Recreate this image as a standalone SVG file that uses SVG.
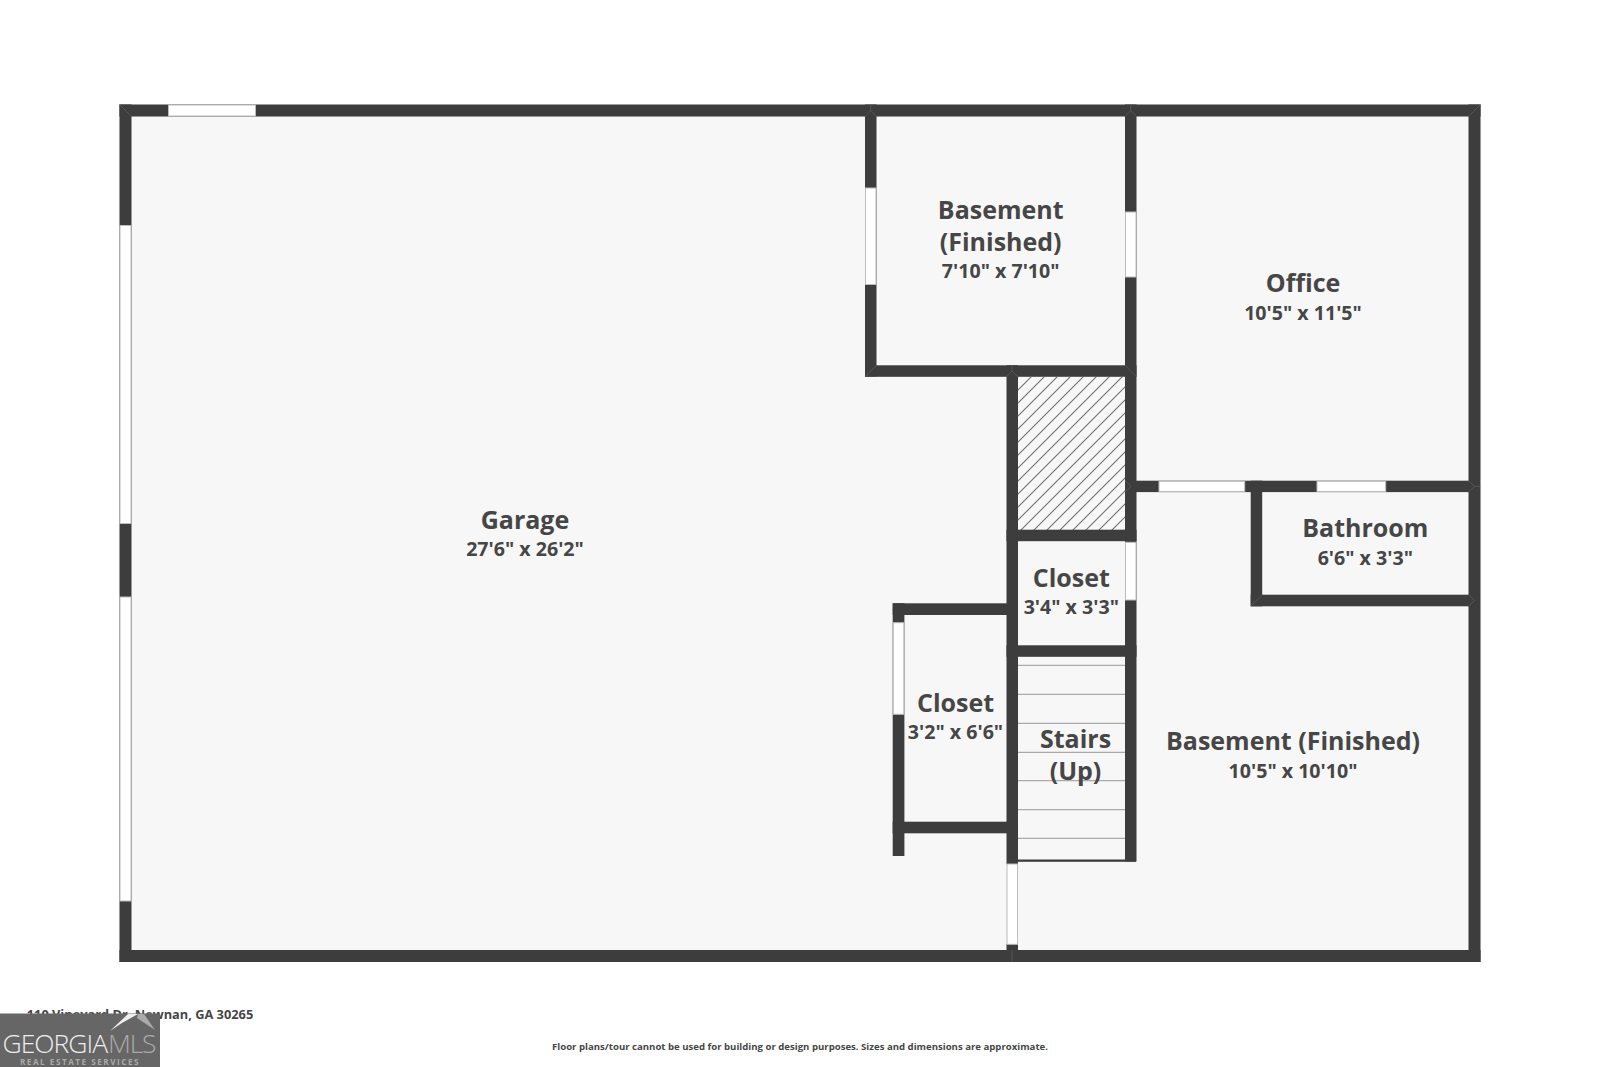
<svg xmlns="http://www.w3.org/2000/svg" width="1600" height="1067" viewBox="0 0 1600 1067">
<style>
.w{fill:#3d3d3d}
.o{fill:#fff;stroke:#bcbcbc;stroke-width:1}
.s{stroke:#aaa;stroke-width:1.2;fill:none}
.m{stroke:#666;stroke-width:.6;fill:none}
text{font-family:"Open Sans","Noto Sans","Liberation Sans",sans-serif;font-weight:700;fill:#464646;text-anchor:middle}
.n{font-size:25px}
.d{font-size:19.6px}
</style>
<defs>
<pattern id="h" width="13" height="13" patternUnits="userSpaceOnUse" patternTransform="translate(1018 377)">
<path d="M-3 3L3 -3M0 13L13 0M10 16L16 10" stroke="#707070" stroke-width="1.1" fill="none"/>
</pattern>
</defs>
<rect width="1600" height="1067" fill="#fff"/>
<rect x="119.5" y="104.5" width="1361" height="857.5" fill="#f7f7f7"/>
<rect x="1018" y="377" width="107" height="153" fill="#f7f7f7"/>
<rect x="1018" y="377" width="107" height="153" fill="url(#h)"/>
<path class="s" d="M1018 665.3H1125M1018 694.3H1125M1018 723.3H1125M1018 752.3H1125M1018 780.7H1125M1018 809.7H1125M1018 838.3H1125"/>
<g id="walls">
<rect class="w" x="119.5" y="104.5" width="1361" height="12"/>
<rect class="w" x="119.5" y="950" width="1361" height="12"/>
<rect class="w" x="119.5" y="104.5" width="12" height="857.5"/>
<rect class="w" x="1468.5" y="104.5" width="12" height="857.5"/>
<rect class="w" x="865" y="104.5" width="11.5" height="272"/>
<rect class="w" x="865" y="365.3" width="271.5" height="11.5"/>
<rect class="w" x="1125" y="104.5" width="11.5" height="757"/>
<rect class="w" x="1006.5" y="365.3" width="11.5" height="498.7"/>
<rect class="w" x="1006.5" y="944" width="11.5" height="10"/>
<rect class="w" x="1006.5" y="529.7" width="130" height="11.5"/>
<rect class="w" x="1006.5" y="645.3" width="130" height="11.5"/>
<rect class="w" x="1018" y="859.5" width="118" height="2.3"/>
<rect class="w" x="892.7" y="603.3" width="125" height="11.7"/>
<rect class="w" x="892.7" y="603.3" width="11.7" height="252.7"/>
<rect class="w" x="892.7" y="821.7" width="125" height="11.6"/>
<rect class="w" x="1125" y="480.7" width="355" height="11.4"/>
<rect class="w" x="1250.7" y="480.7" width="11.5" height="125.6"/>
<rect class="w" x="1250.7" y="594.7" width="229" height="11.6"/>
</g>
<g id="openings">
<rect class="o" x="168.5" y="105" width="87" height="11"/>
<rect class="o" x="120" y="225.5" width="11" height="298"/>
<rect class="o" x="120" y="597" width="11" height="304"/>
<rect class="o" x="865.5" y="188" width="10.5" height="96.5"/>
<rect class="o" x="1125.5" y="212" width="10.5" height="65"/>
<rect class="o" x="1125.5" y="542.3" width="10.5" height="57.7"/>
<rect class="o" x="1007" y="864" width="10.5" height="80.3"/>
<rect class="o" x="893.2" y="622.7" width="10.7" height="91.6"/>
<rect class="o" x="1159" y="481.2" width="85.7" height="10.4"/>
<rect class="o" x="1317" y="481.2" width="68.7" height="10.4"/>
</g>
<path class="m" d="M119.5 104.5L131.5 116.5M1480.5 104.5L1468.5 116.5M865 376.8L876.5 365.3M1012 365.3V371L1006.5 376.8M1012 371L1018 376.8M1125 365.3L1136.5 376.8M1468.5 480.7L1474.5 486.4L1468.5 492.1M1480.5 486.4H1474.5M1250.7 606.3L1262.2 594.7M1468.5 594.7L1474.5 600.5L1468.5 606.3M1125 480.7L1131 486.4L1125 492.1M870.7 104.5V110.5L865 116.5M870.7 110.5L876.5 116.5M1130.7 104.5V110.5L1125 116.5M1130.7 110.5L1136.5 116.5M1012 950V956V962"/>
<g id="garage"><text class="n" x="525" y="529">Garage</text><text class="d" x="525" y="555.5">27'6" x 26'2"</text></g>
<g id="basement-1"><text class="n" x="1000.7" y="218.5">Basement</text><text class="n" x="1000.7" y="250.5">(Finished)</text><text class="d" x="1000.7" y="278">7'10" x 7'10"</text></g>
<g id="office"><text class="n" x="1303" y="292">Office</text><text class="d" x="1303" y="319.5">10'5" x 11'5"</text></g>
<g id="bathroom"><text class="n" x="1365.3" y="537">Bathroom</text><text class="d" x="1365.3" y="564.5">6'6" x 3'3"</text></g>
<g id="closet-1"><text class="n" x="1071.3" y="586.5">Closet</text><text class="d" x="1071.3" y="613.5">3'4" x 3'3"</text></g>
<g id="closet-2"><text class="n" x="955.5" y="712">Closet</text><text class="d" x="955.5" y="739">3'2" x 6'6"</text></g>
<g id="stairs"><text class="n" x="1075.5" y="747.5">Stairs</text><text class="n" x="1075.5" y="779.5">(Up)</text></g>
<g id="basement-2"><text class="n" x="1293" y="750">Basement (Finished)</text><text class="d" x="1293" y="778">10'5" x 10'10"</text></g>
<g id="address"><text x="140" y="1019" style="font-size:12.8px">110 Vineyard Dr, Newnan, GA 30265</text></g>
<g id="disclaimer"><text x="800" y="1049.5" style="font-size:9.6px">Floor plans/tour cannot be used for building or design purposes. Sizes and dimensions are approximate.</text></g>
<g id="logo">
<rect x="0" y="1013.5" width="160" height="53.5" fill="#666"/>
<polygon points="110,1031 128,1014 138,1014 122,1023" fill="#eee"/>
<polygon points="138,1014 144,1014 155,1030 137,1018" fill="#aaa"/>
<text x="2.5" y="1052.5" style="font-size:26.5px;font-weight:300;fill:#eee;text-anchor:start;letter-spacing:-1px">GEORGIA</text>
<text x="108" y="1052.5" style="font-size:26.5px;font-weight:300;fill:#aaa;text-anchor:start;letter-spacing:-1.2px">MLS</text>
<text x="80" y="1064.5" style="font-size:8.2px;fill:#aaa;letter-spacing:1.5px">REAL ESTATE SERVICES</text>
</g>
</svg>
